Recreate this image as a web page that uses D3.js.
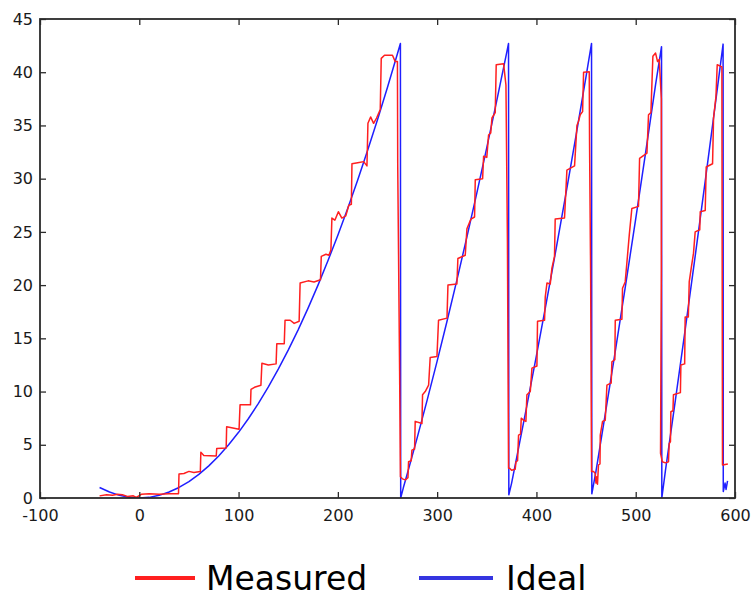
<!DOCTYPE html>
<html><head><meta charset="utf-8">
<script src="https://cdn.jsdelivr.net/npm/d3@7"></script>
<style>body{margin:0;background:#fff} svg{display:block}</style>
</head><body>
<svg id="c" width="755" height="605"></svg>
<script>
const xTicks = [-100, 0, 100, 200, 300, 400, 500, 600];
const yTicks = [0, 5, 10, 15, 20, 25, 30, 35, 40, 45];
const legendLabels = ["Measured", "Ideal"];

const idealT = [-40,-30,-20,-10,0,10,20,30,40,50,60,70,80,90,100,110,120,130,140,150,160,170,180,190,200,210,220,230,240,250,260,263,
  263.3,266,270,280,290,300,310,320,330,340,350,360,370,371.9,
  372.2,375,380,390,400,410,420,430,440,450,455.5,
  455.8,460,470,480,490,500,510,520,526,
  526.3,530,540,550,560,570,580,588,
  588.2,590,591,592.5];
const idealY = [0.99,0.56,0.25,0.06,0,0.06,0.25,0.56,0.99,1.54,2.22,3.02,3.95,5.0,6.17,7.47,8.89,10.43,12.1,13.89,15.8,17.84,20.0,22.29,24.69,27.22,29.88,32.66,35.56,38.58,41.73,42.7,
  0.0,0.98,2.3,5.7,9.22,12.86,16.63,20.52,24.53,28.66,32.92,37.3,41.81,42.7,
  0.3,1.4,3.74,8.5,13.37,18.37,23.49,28.74,34.11,39.61,42.7,
  0.4,2.53,8.27,14.13,20.12,26.23,32.47,38.83,42.4,
  0.0,2.61,9.22,15.94,22.79,29.77,36.87,42.64,
  0.6,1.4,0.8,1.6];

const measuredT = [-40,-33,-27,-22,-17,-12,-6,-3,2,10,20,30,39.5,40,45,50,55,61.5,62,65,77.5,78,87.5,88,93,100.5,101.5,112,112.5,116,122.5,123.5,130,137.8,138.5,146,146.8,152,156,161,162,170,176,182.5,183.3,188,191,193,194,197,200.5,204,208,211,213.6,214.2,220,226,229.3,230.3,233,236,239,242.7,243.7,247,255,257.8,
  260.0,260.3,262.2,263.0,
  265,268,270.6,271.2,273.9,274.6,277.3,277.9,284.7,285.3,288,291.4,293,299.8,301.4,309.9,310.9,319.9,320.9,328.3,330,334,337.7,338.4,345.8,346.8,350,351.8,354,355.2,358.5,359.5,366.9,369.3,
  370.8,371.9,
  373,375,378.6,379.4,381,382,384,384.7,387,389.4,390.4,393.8,395.5,400.5,401.1,408.2,408.9,410.6,413.9,415.6,418.2,418.9,428.3,430.7,438.4,440.8,442.4,444.1,446.5,447.5,453.2,453.5,
  454.6,455.5,
  457.5,459.2,460,460.9,461.5,462.5,464,464.3,466.6,469.3,471,475.3,476,479,479.4,486.1,486.7,489.4,491.1,493.5,496.1,502.8,503.9,511.3,512.9,515.3,517.3,520,522,523.7,
  525.8,525.8,525.0,
  526.8,530,533,533.7,535,535.4,537.5,538,545,545.5,549.3,549.8,553,553.9,555.9,558.2,559.9,564.5,565,570,571,577.4,578.4,580.8,582.1,586.8,
  587.4,592.8];
const measuredY = [0.2,0.3,0.25,0.35,0.3,0.15,0.2,0.05,0.35,0.4,0.35,0.4,0.4,2.25,2.3,2.5,2.4,2.5,4.3,4.0,3.95,4.65,4.7,6.7,6.6,6.45,8.75,8.75,10.2,10.4,10.6,12.65,12.5,12.6,14.5,14.5,16.7,16.7,16.4,16.6,20.2,20.4,20.3,20.5,22.7,22.9,22.8,23.3,26.3,26.1,26.9,26.3,26.5,27.5,27.6,31.4,31.5,31.6,31.2,35.2,35.8,35.2,35.7,36.5,41.3,41.6,41.6,41.0,
  41.0,31.3,11.9,2.0,
  1.8,1.7,1.9,3.4,3.5,4.5,4.6,7.2,7.0,9.7,10.0,10.6,13.2,13.3,16.7,16.9,20.0,20.1,22.5,22.8,25.3,26.2,26.4,29.9,30.0,32.1,32.0,34.1,34.3,35.7,36.2,40.7,40.8,38.8,
  24.1,2.8,
  2.8,2.6,2.7,3.4,3.5,5.9,6.0,7.5,7.3,7.2,9.7,10.0,12.2,12.4,16.6,16.7,18.9,20.2,20.1,21.6,22.7,26.2,26.3,30.8,31.2,35.0,35.4,36.0,36.3,40.0,40.05,33.5,
  20.9,2.5,
  2.5,2.3,1.4,2.0,1.3,3.1,3.2,5.9,7.2,7.3,10.6,10.8,12.8,13.0,16.7,16.8,19.7,20.3,22.1,24.7,27.2,27.4,31.9,32.4,36.0,36.2,41.5,41.8,41.0,41.2,
  37.5,21.4,4.2,
  3.4,3.3,3.4,5.1,5.3,8.1,8.2,9.7,9.9,12.5,12.6,17.0,17.0,20.3,21.6,23.0,25.0,25.2,26.9,27.0,31.1,31.4,35.7,37.7,40.7,40.5,
  3.1,3.2];

const svg = d3.select("#c");
const mLeft = 40, mRight = 735, mTop = 19, mBottom = 498;
const x = d3.scaleLinear().domain([-100, 600]).range([mLeft, mRight]);
const y = d3.scaleLinear().domain([0, 45]).range([mBottom, mTop]);

const axisColor = "#2b2b2b";
const font = "'DejaVu Sans', Verdana, sans-serif";

svg.append("clipPath").attr("id", "clip").append("rect")
  .attr("x", mLeft).attr("y", mTop).attr("width", mRight - mLeft).attr("height", mBottom - mTop);

const line = d3.line().x(d => x(d[0])).y(d => y(d[1]));
const idealData = idealT.map((t, i) => [t, idealY[i]]);
const measuredData = measuredT.map((t, i) => [t, measuredY[i]]);

const plot = svg.append("g").attr("clip-path", "url(#clip)");
plot.append("path").datum(idealData).attr("d", line)
  .attr("fill", "none").attr("stroke", "#1f1fff").attr("stroke-width", 1.5).attr("stroke-linejoin", "round");
plot.append("path").datum(measuredData).attr("d", line)
  .attr("fill", "none").attr("stroke", "#ff1f1f").attr("stroke-width", 1.5).attr("stroke-linejoin", "round");

function styleAxis(g) {
  g.select(".domain").remove();
  g.selectAll(".tick line").attr("stroke", axisColor).attr("stroke-width", 1.3);
  g.selectAll(".tick text").attr("fill", "#1a1a1a").style("font-family", font).style("font-size", "16px");
}

svg.append("g").attr("transform", `translate(0,${mBottom})`)
  .call(d3.axisBottom(x).tickValues(xTicks).tickFormat(d => String(d)).tickSizeInner(-6).tickSizeOuter(0).tickPadding(12))
  .call(styleAxis);
svg.append("g").attr("transform", `translate(0,${mTop})`)
  .call(d3.axisTop(x).tickValues(xTicks).tickFormat("").tickSizeInner(-6).tickSizeOuter(0))
  .call(styleAxis);
svg.append("g").attr("transform", `translate(${mLeft},0)`)
  .call(d3.axisLeft(y).tickValues(yTicks).tickFormat(d => String(d)).tickSizeInner(-6).tickSizeOuter(0).tickPadding(7))
  .call(styleAxis);
svg.append("g").attr("transform", `translate(${mRight},0)`)
  .call(d3.axisRight(y).tickValues(yTicks).tickFormat("").tickSizeInner(-6).tickSizeOuter(0))
  .call(styleAxis);

svg.append("rect").attr("x", mLeft).attr("y", mTop).attr("width", mRight - mLeft).attr("height", mBottom - mTop)
  .attr("fill", "none").attr("stroke", axisColor).attr("stroke-width", 1.8);

// legend
const legend = svg.append("g");
const items = [
  {label: legendLabels[0], color: "#ff1f1f", x1: 135, x2: 195, tx: 206},
  {label: legendLabels[1], color: "#3535e0", x1: 419, x2: 493, tx: 506}
];
items.forEach(it => {
  legend.append("line").attr("x1", it.x1).attr("x2", it.x2).attr("y1", 578).attr("y2", 578)
    .attr("stroke", it.color).attr("stroke-width", 4);
  legend.append("text").attr("x", it.tx).attr("y", 590).text(it.label)
    .attr("fill", "#000").style("font-family", font).style("font-size", "33px");
});
</script>
</body></html>
